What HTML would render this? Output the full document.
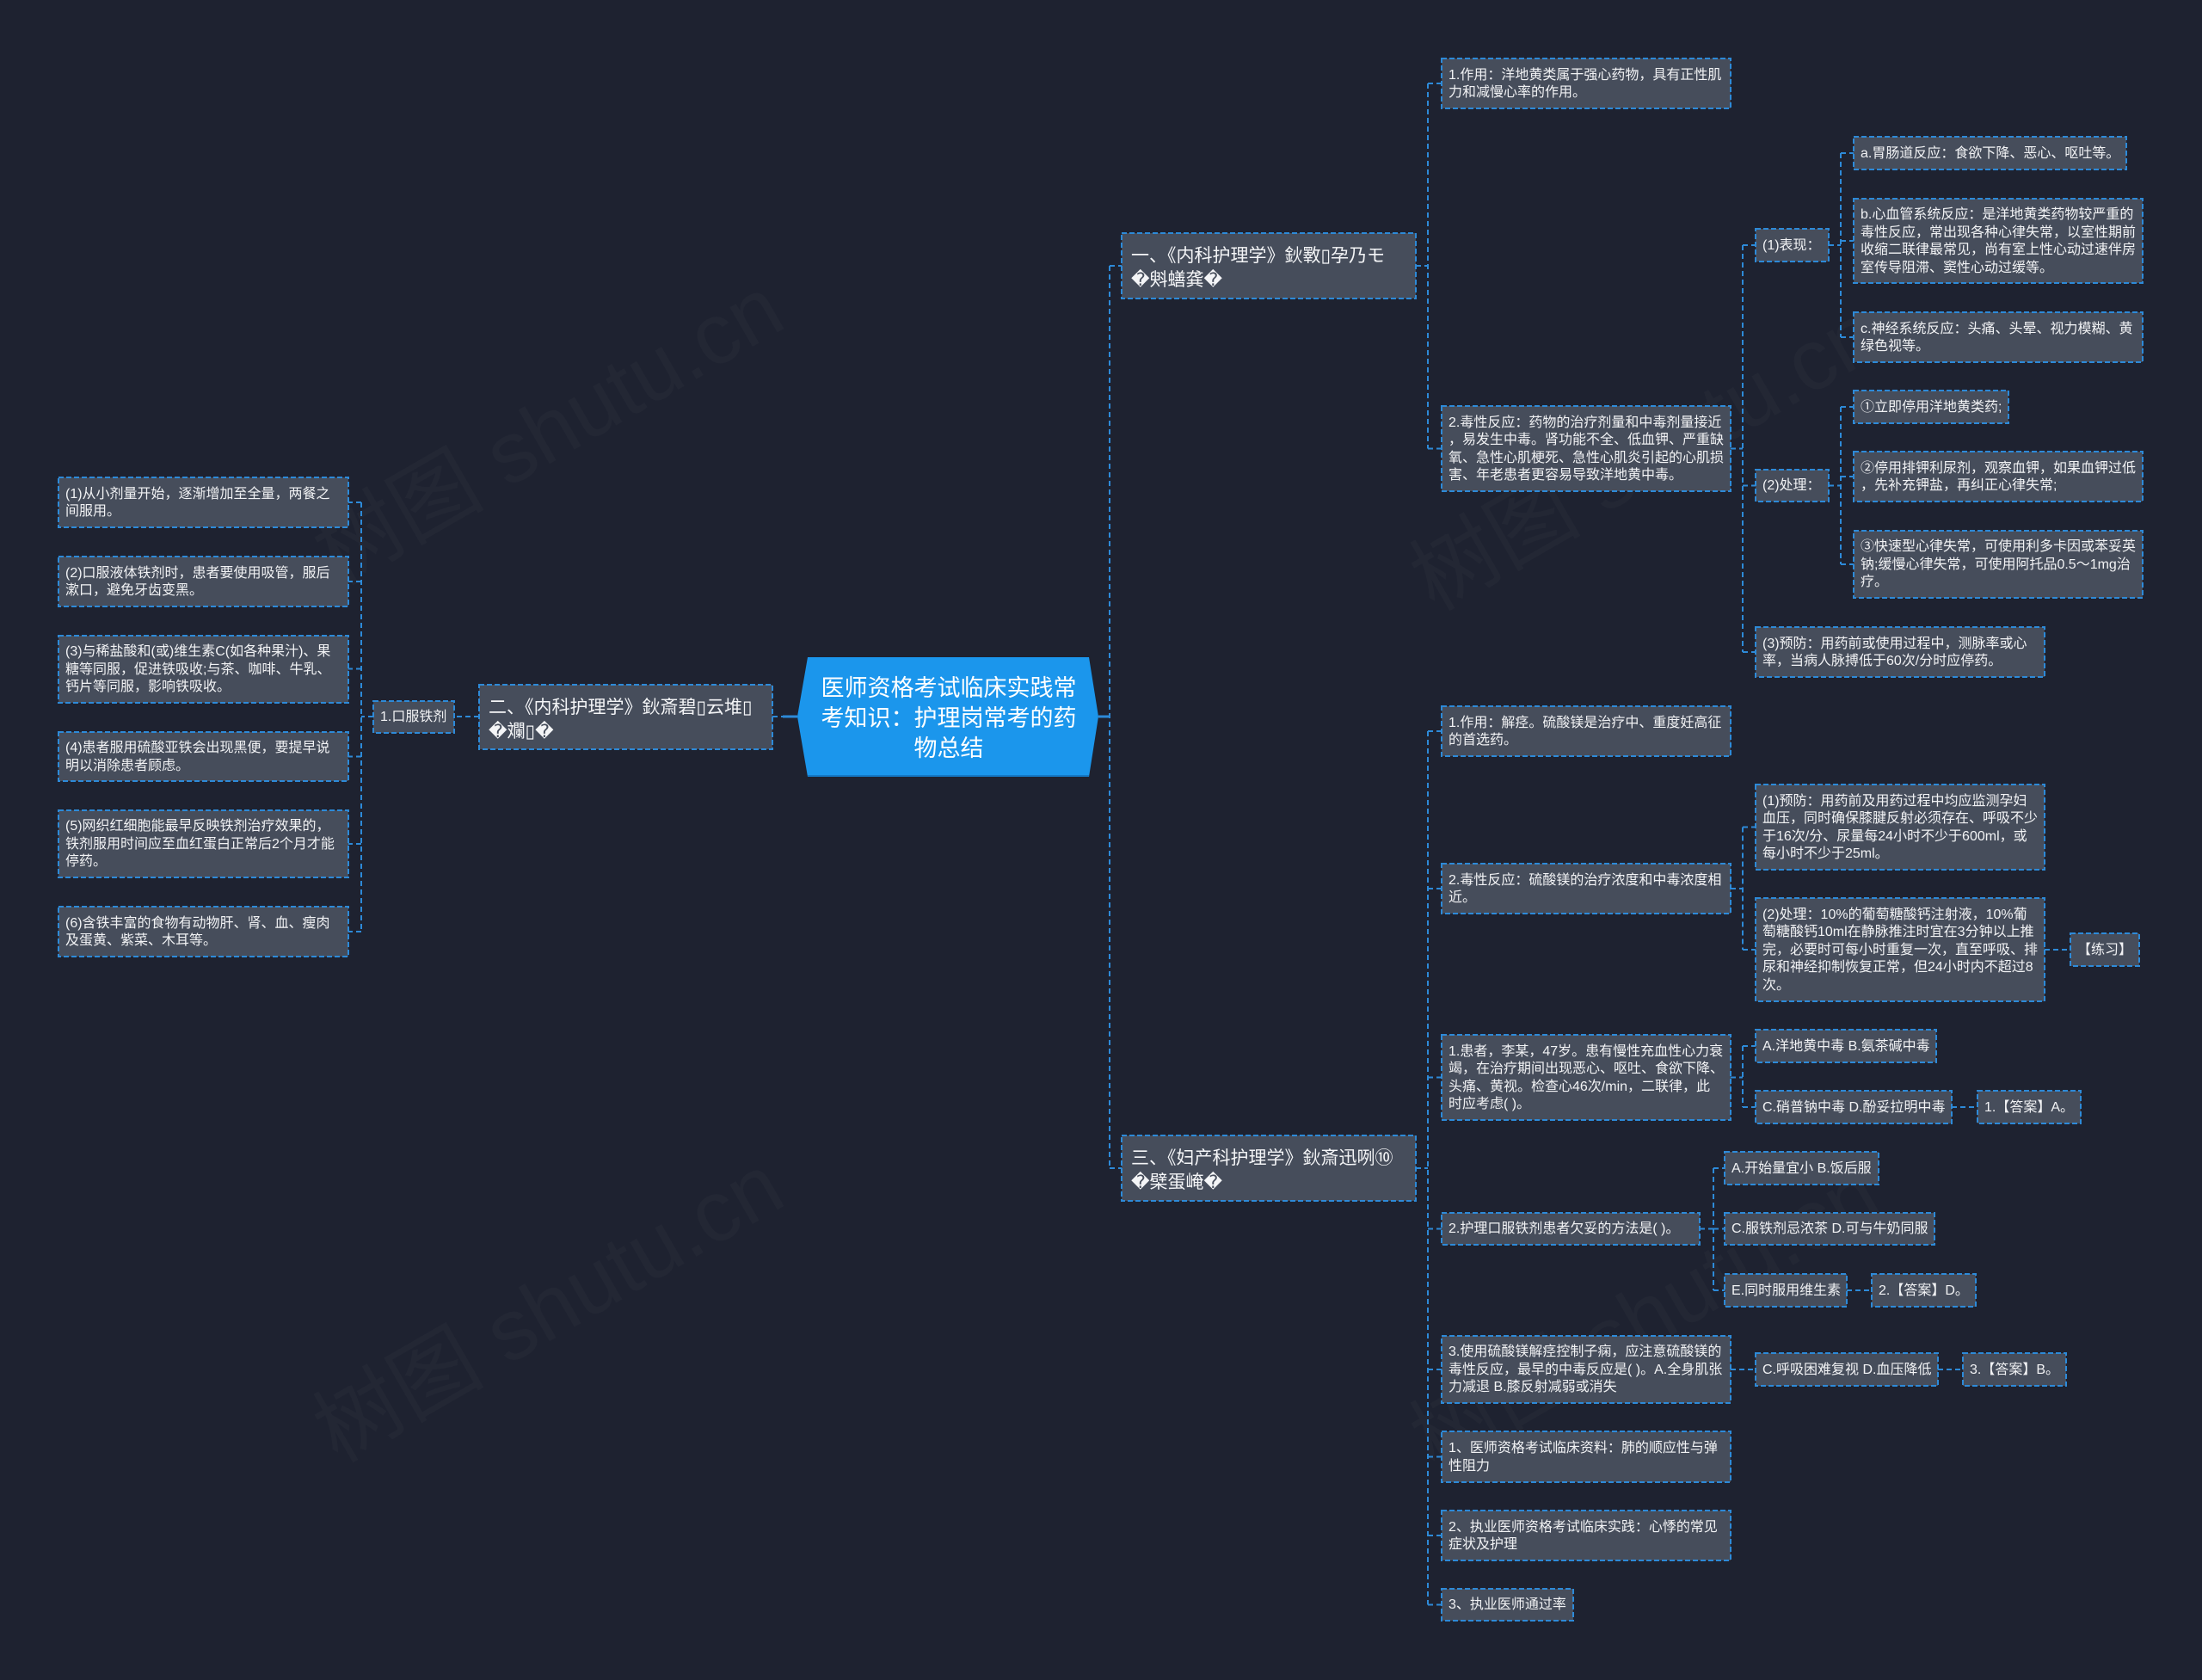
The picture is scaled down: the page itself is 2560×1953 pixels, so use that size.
<!DOCTYPE html>
<html>
<head>
<meta charset="utf-8">
<style>
html,body{margin:0;padding:0;}
body{width:2560px;height:1953px;background:#1e2230;position:relative;overflow:hidden;font-family:"Liberation Sans","Noto Sans CJK SC",sans-serif;}
svg{position:absolute;left:0;top:0;}
.n{position:absolute;box-sizing:border-box;display:flex;align-items:center;padding-left:8px;padding-top:2px;font-size:16px;line-height:20.5px;color:#f1f2f4;white-space:nowrap;}
.b{position:absolute;box-sizing:border-box;display:flex;align-items:center;padding-left:11px;padding-top:6px;font-size:21px;line-height:28px;color:#f4f5f7;white-space:nowrap;}
.c{position:absolute;left:933px;top:764px;width:340px;height:139px;display:flex;align-items:center;justify-content:center;text-align:center;font-size:27px;line-height:35px;color:#ffffff;padding-top:3px;box-sizing:border-box;}
.wm{position:absolute;font-size:100px;color:rgba(255,255,255,0.022);white-space:nowrap;transform:rotate(-30deg);transform-origin:center;}
</style>
</head>
<body>
<div class="wm" style="left:330px;top:420px;">树图 shutu.cn</div>
<div class="wm" style="left:330px;top:1440px;">树图 shutu.cn</div>
<div class="wm" style="left:1605px;top:450px;">树图 shutu.cn</div>
<div class="wm" style="left:1605px;top:1450px;">树图 shutu.cn</div>

<svg width="2560" height="1953" viewBox="0 0 2560 1953" xmlns="http://www.w3.org/2000/svg">
<g fill="none" stroke="#2d8ad8" stroke-width="2" stroke-dasharray="6 4">
<path d="M1290 309 V1358 M1290 309 H1304 M1290 1358 H1304"/>
<path d="M1646 309 H1660 M1660 97 V521.5 M1660 97 H1676 M1660 521.5 H1676"/>
<path d="M2012 521.5 H2026 M2026 285 V758 M2026 285 H2041 M2026 564.5 H2041 M2026 758 H2041"/>
<path d="M2126 285 H2140 M2140 178 V392 M2140 178 H2155 M2140 280 H2155 M2140 392 H2155"/>
<path d="M2126 564.5 H2140 M2140 473 V656 M2140 473 H2155 M2140 554 H2155 M2140 656 H2155"/>
<path d="M1646 1358 H1660 M1660 850 V1865.5 M1660 850 H1676 M1660 1033 H1676 M1660 1252.5 H1676 M1660 1428.5 H1676 M1660 1592 H1676 M1660 1693.5 H1676 M1660 1785 H1676 M1660 1865.5 H1676"/>
<path d="M2012 1033 H2026 M2026 961.5 V1104 M2026 961.5 H2041 M2026 1104 H2041"/>
<path d="M2377 1104 H2407"/>
<path d="M2012 1252.5 H2026 M2026 1216 V1287 M2026 1216 H2041 M2026 1287 H2041"/>
<path d="M2269 1287 H2299"/>
<path d="M1976 1428.5 H1992 M1992 1358 V1500 M1992 1358 H2005 M1992 1428.5 H2005 M1992 1500 H2005"/>
<path d="M2147 1500 H2176"/>
<path d="M2012 1592 H2041"/>
<path d="M2253 1592 H2282"/>
<path d="M557 833 H528"/>
<path d="M434 833 H420 M420 584 V1083 M420 584 H405 M420 676 H405 M420 777.5 H405 M420 879.5 H405 M420 981 H405 M420 1083 H405"/>
<path d="M898 833 H910"/>
</g>
<g fill="none" stroke="#2d8ad8" stroke-width="3">
<path d="M1277 833 H1290"/>
<path d="M910 833 H927"/>
</g>

<polygon points="939,764 1266,764 1277,833 1266,903 939,903 927,833" fill="#1b96ec"/>
<line x1="939" y1="902" x2="1266" y2="902" stroke="#1477c4" stroke-width="2"/>

<g fill="#464d5b" stroke="#2d8ad8" stroke-width="2" stroke-dasharray="6 3">
<rect x="68" y="555" width="337" height="58"/>
<rect x="68" y="647" width="337" height="58"/>
<rect x="68" y="739" width="337" height="78"/>
<rect x="68" y="851" width="337" height="57"/>
<rect x="68" y="942" width="337" height="78"/>
<rect x="68" y="1054" width="337" height="58"/>
<rect x="434" y="815" width="94" height="37"/>
<rect x="557" y="796" width="341" height="75"/>
<rect x="1304" y="271" width="342" height="76"/>
<rect x="1676" y="68" width="336" height="58"/>
<rect x="1676" y="472" width="336" height="99"/>
<rect x="2041" y="266" width="85" height="38"/>
<rect x="2155" y="159" width="317" height="38"/>
<rect x="2155" y="231" width="336" height="98"/>
<rect x="2155" y="363" width="336" height="58"/>
<rect x="2041" y="546" width="85" height="37"/>
<rect x="2155" y="454" width="180" height="38"/>
<rect x="2155" y="525" width="336" height="58"/>
<rect x="2155" y="617" width="336" height="78"/>
<rect x="2041" y="729" width="336" height="58"/>
<rect x="1304" y="1320" width="342" height="76"/>
<rect x="1676" y="821" width="336" height="58"/>
<rect x="1676" y="1004" width="336" height="58"/>
<rect x="2041" y="912" width="336" height="99"/>
<rect x="2041" y="1044" width="336" height="120"/>
<rect x="2407" y="1085" width="80" height="38"/>
<rect x="1676" y="1203" width="336" height="99"/>
<rect x="2041" y="1197" width="210" height="38"/>
<rect x="2041" y="1268" width="228" height="38"/>
<rect x="2299" y="1268" width="120" height="38"/>
<rect x="1676" y="1410" width="300" height="37"/>
<rect x="2005" y="1339" width="179" height="38"/>
<rect x="2005" y="1410" width="244" height="37"/>
<rect x="2005" y="1481" width="142" height="38"/>
<rect x="2176" y="1481" width="121" height="38"/>
<rect x="1676" y="1553" width="336" height="78"/>
<rect x="2041" y="1573" width="212" height="38"/>
<rect x="2282" y="1573" width="120" height="38"/>
<rect x="1676" y="1664" width="336" height="59"/>
<rect x="1676" y="1756" width="336" height="58"/>
<rect x="1676" y="1847" width="153" height="37"/>
</g>
</svg>

<div class="c">医师资格考试临床实践常<br>考知识：护理岗常考的药<br>物总结</div>

<div class="n" style="left:68px;top:555px;width:337px;height:58px;">(1)从小剂量开始，逐渐增加至全量，两餐之<br>间服用。</div>
<div class="n" style="left:68px;top:647px;width:337px;height:58px;">(2)口服液体铁剂时，患者要使用吸管，服后<br>漱口，避免牙齿变黑。</div>
<div class="n" style="left:68px;top:739px;width:337px;height:78px;">(3)与稀盐酸和(或)维生素C(如各种果汁)、果<br>糖等同服，促进铁吸收;与茶、咖啡、牛乳、<br>钙片等同服，影响铁吸收。</div>
<div class="n" style="left:68px;top:851px;width:337px;height:57px;">(4)患者服用硫酸亚铁会出现黑便，要提早说<br>明以消除患者顾虑。</div>
<div class="n" style="left:68px;top:942px;width:337px;height:78px;">(5)网织红细胞能最早反映铁剂治疗效果的，<br>铁剂服用时间应至血红蛋白正常后2个月才能<br>停药。</div>
<div class="n" style="left:68px;top:1054px;width:337px;height:58px;">(6)含铁丰富的食物有动物肝、肾、血、瘦肉<br>及蛋黄、紫菜、木耳等。</div>
<div class="n" style="left:434px;top:815px;width:94px;height:37px;">1.口服铁剂</div>
<div class="b" style="left:557px;top:796px;width:341px;height:75px;">二、《内科护理学》鈥斎碧▯云堆▯<br>�斕▯�</div>

<div class="b" style="left:1304px;top:271px;width:342px;height:76px;">一、《内科护理学》鈥斁▯孕乃モ<br>�斞蟮龚�</div>
<div class="n" style="left:1676px;top:68px;width:336px;height:58px;">1.作用：洋地黄类属于强心药物，具有正性肌<br>力和减慢心率的作用。</div>
<div class="n" style="left:1676px;top:472px;width:336px;height:99px;">2.毒性反应：药物的治疗剂量和中毒剂量接近<br>，易发生中毒。肾功能不全、低血钾、严重缺<br>氧、急性心肌梗死、急性心肌炎引起的心肌损<br>害、年老患者更容易导致洋地黄中毒。</div>
<div class="n" style="left:2041px;top:266px;width:85px;height:38px;">(1)表现：</div>
<div class="n" style="left:2155px;top:159px;width:317px;height:38px;">a.胃肠道反应：食欲下降、恶心、呕吐等。</div>
<div class="n" style="left:2155px;top:231px;width:336px;height:98px;">b.心血管系统反应：是洋地黄类药物较严重的<br>毒性反应，常出现各种心律失常，以室性期前<br>收缩二联律最常见，尚有室上性心动过速伴房<br>室传导阻滞、窦性心动过缓等。</div>
<div class="n" style="left:2155px;top:363px;width:336px;height:58px;">c.神经系统反应：头痛、头晕、视力模糊、黄<br>绿色视等。</div>
<div class="n" style="left:2041px;top:546px;width:85px;height:37px;">(2)处理：</div>
<div class="n" style="left:2155px;top:454px;width:180px;height:38px;">①立即停用洋地黄类药;</div>
<div class="n" style="left:2155px;top:525px;width:336px;height:58px;">②停用排钾利尿剂，观察血钾，如果血钾过低<br>，先补充钾盐，再纠正心律失常;</div>
<div class="n" style="left:2155px;top:617px;width:336px;height:78px;">③快速型心律失常，可使用利多卡因或苯妥英<br>钠;缓慢心律失常，可使用阿托品0.5～1mg治<br>疗。</div>
<div class="n" style="left:2041px;top:729px;width:336px;height:58px;">(3)预防：用药前或使用过程中，测脉率或心<br>率，当病人脉搏低于60次/分时应停药。</div>

<div class="b" style="left:1304px;top:1320px;width:342px;height:76px;">三、《妇产科护理学》鈥斎迅咧⑩<br>�檗蛋崦�</div>
<div class="n" style="left:1676px;top:821px;width:336px;height:58px;">1.作用：解痉。硫酸镁是治疗中、重度妊高征<br>的首选药。</div>
<div class="n" style="left:1676px;top:1004px;width:336px;height:58px;">2.毒性反应：硫酸镁的治疗浓度和中毒浓度相<br>近。</div>
<div class="n" style="left:2041px;top:912px;width:336px;height:99px;">(1)预防：用药前及用药过程中均应监测孕妇<br>血压，同时确保膝腱反射必须存在、呼吸不少<br>于16次/分、尿量每24小时不少于600ml，或<br>每小时不少于25ml。</div>
<div class="n" style="left:2041px;top:1044px;width:336px;height:120px;">(2)处理：10%的葡萄糖酸钙注射液，10%葡<br>萄糖酸钙10ml在静脉推注时宜在3分钟以上推<br>完，必要时可每小时重复一次，直至呼吸、排<br>尿和神经抑制恢复正常，但24小时内不超过8<br>次。</div>
<div class="n" style="left:2407px;top:1085px;width:80px;height:38px;">【练习】</div>
<div class="n" style="left:1676px;top:1203px;width:336px;height:99px;">1.患者，李某，47岁。患有慢性充血性心力衰<br>竭，在治疗期间出现恶心、呕吐、食欲下降、<br>头痛、黄视。检查心46次/min，二联律，此<br>时应考虑( )。</div>
<div class="n" style="left:2041px;top:1197px;width:210px;height:38px;">A.洋地黄中毒 B.氨茶碱中毒</div>
<div class="n" style="left:2041px;top:1268px;width:228px;height:38px;">C.硝普钠中毒 D.酚妥拉明中毒</div>
<div class="n" style="left:2299px;top:1268px;width:120px;height:38px;">1.【答案】A。</div>
<div class="n" style="left:1676px;top:1410px;width:300px;height:37px;">2.护理口服铁剂患者欠妥的方法是( )。</div>
<div class="n" style="left:2005px;top:1339px;width:179px;height:38px;">A.开始量宜小 B.饭后服</div>
<div class="n" style="left:2005px;top:1410px;width:244px;height:37px;">C.服铁剂忌浓茶 D.可与牛奶同服</div>
<div class="n" style="left:2005px;top:1481px;width:142px;height:38px;">E.同时服用维生素</div>
<div class="n" style="left:2176px;top:1481px;width:121px;height:38px;">2.【答案】D。</div>
<div class="n" style="left:1676px;top:1553px;width:336px;height:78px;">3.使用硫酸镁解痉控制子痫，应注意硫酸镁的<br>毒性反应，最早的中毒反应是( )。A.全身肌张<br>力减退 B.膝反射减弱或消失</div>
<div class="n" style="left:2041px;top:1573px;width:212px;height:38px;">C.呼吸困难复视 D.血压降低</div>
<div class="n" style="left:2282px;top:1573px;width:120px;height:38px;">3.【答案】B。</div>
<div class="n" style="left:1676px;top:1664px;width:336px;height:59px;">1、医师资格考试临床资料：肺的顺应性与弹<br>性阻力</div>
<div class="n" style="left:1676px;top:1756px;width:336px;height:58px;">2、执业医师资格考试临床实践：心悸的常见<br>症状及护理</div>
<div class="n" style="left:1676px;top:1847px;width:153px;height:37px;">3、执业医师通过率</div>
</body>
</html>
